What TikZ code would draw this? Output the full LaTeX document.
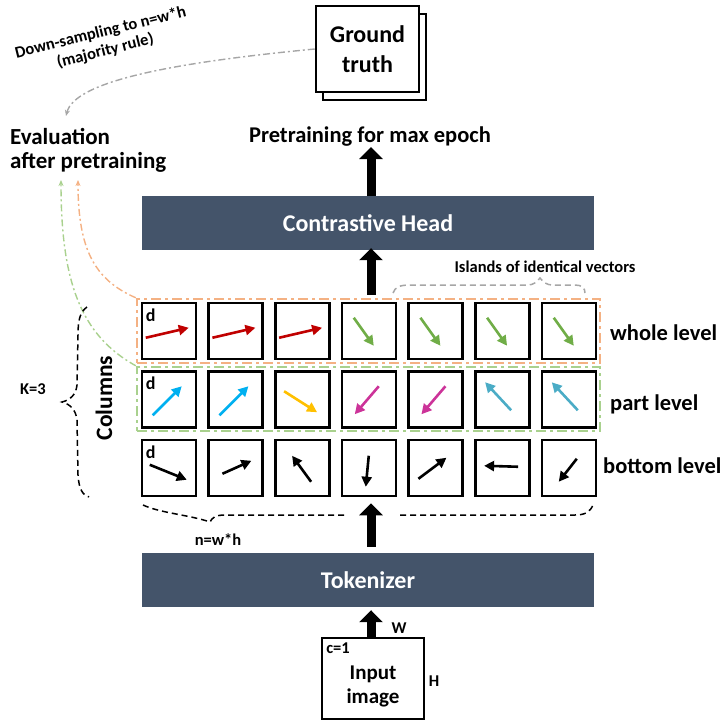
\documentclass[tikz,border=0pt]{standalone}
\usepackage{fontspec}
\setmainfont{Carlito}
\usetikzlibrary{arrows.meta}
\definecolor{barc}{HTML}{44546A}
\definecolor{vred}{HTML}{C00000}
\definecolor{vgreen}{HTML}{70AD47}
\definecolor{vblue}{HTML}{00B0F0}
\definecolor{vyellow}{HTML}{FFC000}
\definecolor{vmag}{HTML}{CC3399}
\definecolor{vteal}{HTML}{4BACC6}
\definecolor{orgd}{HTML}{F4B183}
\definecolor{grnd}{HTML}{A9D18E}
\definecolor{grayd}{HTML}{A6A6A6}
\newcommand\vecarrow[4]{\draw[vec,#1] ([shift={#3}]#2.north west) -- ([shift={#4}]#2.north west);}
\begin{document}
\begin{tikzpicture}[x=1pt,y=-1pt,
  font=\bfseries,
  cell/.style={draw, line width=2.5pt, minimum width=54pt, minimum height=56pt, inner sep=0pt},
  bar/.style={fill=barc, minimum width=452pt, minimum height=54pt, text=white, inner sep=0pt, font=\bfseries\fontsize{24}{28}\selectfont},
  bigarrow/.style={line width=9pt, -{Triangle[length=12pt,width=23pt]}},
  vec/.style={line width=2.6pt, -{Triangle[length=10pt,width=10pt]}},
  big/.style={font=\bfseries\fontsize{22.5}{27}\selectfont, inner sep=0pt},
  small/.style={font=\bfseries\fontsize{16.5}{18}\selectfont, inner sep=0pt},
  levelbox/.style={minimum width=463pt, minimum height=64pt, inner sep=0pt, line width=2.5pt, dash pattern=on 10pt off 4pt on 3pt off 4pt},
  thincurve/.style={line width=1.4pt, dash pattern=on 7pt off 3pt on 2pt off 3pt, -{Stealth[length=6pt,width=5pt]}},
  bracestyle/.style={line width=1.5pt, dash pattern=on 6pt off 4pt},
  gtbox/.style={draw, fill=white, line width=2.5pt, minimum width=103pt, minimum height=86pt, inner sep=0pt}
]
\useasboundingbox (0,0) rectangle (724,728);

% ground truth
\node[gtbox] (gtback) at (374.5,57) {};
\node[gtbox, align=center, font=\bfseries\fontsize{24}{30}\selectfont] (gt) at (367.5,49) {Ground\\truth};

% down-sampling label
\node[rotate=14, align=center, inner sep=0pt, font=\bfseries\fontsize{16.5}{19}\selectfont] (ds) at (103,42) {Down-sampling to n=w*h\\(majority rule)};

% evaluation text
\node[big, font=\bfseries\fontsize{23}{27}\selectfont, anchor=base west] (ev1) at (10,144) {Evaluation};
\node[big, font=\bfseries\fontsize{23}{27}\selectfont, anchor=base west] (ev2) at (10,168) {after pretraining};
\coordinate (evg) at (66,116);
\coordinate (evo) at (78,180);
\coordinate (evgr) at (61,180);

% pretraining
\node[big, anchor=base, inner sep=1pt] (pre) at (370,142) {Pretraining for max epoch};

% bars
\node[bar] (ch) at (368,223) {Contrastive Head};
\node[bar] (tok) at (368,580) {Tokenizer};
\coordinate (ax) at (371,0);

% level boxes
\node[levelbox, draw=orgd] (wh) at (368.5,331) {};
\node[levelbox, draw=grnd] (pt) at (368.5,399) {};

% cells
\foreach \r in {1,2,3}{
  \foreach \c in {1,...,7}{
    \node[cell] (c\r\c) at ({169+66.67*(\c-1)},{331+68.5*(\r-1)}) {};
  }
}
\foreach \r in {1,2,3}{
  \node[small, font=\bfseries\fontsize{18}{20}\selectfont, anchor=center] (d\r) at ([shift={(10,13)}]c\r1.north west) {d};
}

% row 1
\vecarrow{vred}{c11}{(5,36)}{(48,26)}
\vecarrow{vred}{c12}{(5,36)}{(48,26)}
\vecarrow{vred}{c13}{(5,36)}{(48,26)}
\vecarrow{vgreen}{c14}{(13,16)}{(33,44)}
\vecarrow{vgreen}{c15}{(13,16)}{(33,44)}
\vecarrow{vgreen}{c16}{(13,16)}{(33,44)}
\vecarrow{vgreen}{c17}{(13,16)}{(33,44)}
% row 2
\vecarrow{vblue}{c21}{(12,45)}{(41,16)}
\vecarrow{vblue}{c22}{(12,45)}{(41,16)}
\vecarrow{vyellow}{c23}{(10,21)}{(43,42)}
\vecarrow{vmag}{c24}{(38,16)}{(14,44)}
\vecarrow{vmag}{c25}{(38,16)}{(14,44)}
\vecarrow{vteal}{c26}{(37,40)}{(11,12)}
\vecarrow{vteal}{c27}{(37,40)}{(11,12)}
% row 3
\vecarrow{black}{c31}{(9,26)}{(46,41)}
\vecarrow{black}{c32}{(15,35)}{(44,22)}
\vecarrow{black}{c33}{(37,43)}{(18,17)}
\vecarrow{black}{c34}{(28,17)}{(25,48)}
\vecarrow{black}{c35}{(11,40)}{(39,19)}
\vecarrow{black}{c36}{(44,28)}{(10,27)}
\vecarrow{black}{c37}{(36,20)}{(18,43)}

% row labels
\node[big, anchor=base west] (lw) at (610,340) {whole level};
\node[big, anchor=base west] (lp) at (610,410) {part level};
\node[big, anchor=base west] (lb) at (603,473) {bottom level};

% big arrows
\draw[bigarrow] (ch.north -| ax) -- (ax |- pre.south);
\draw[bigarrow, shorten <=3pt, shorten >=-2pt] (wh.north -| ax) -- (ch.south -| ax);
\draw[bigarrow, shorten <=6pt, shorten >=6pt] (tok.north -| ax) -- (c34.south -| ax);

% input image
\node[draw, line width=2pt, minimum width=102pt, minimum height=81pt, inner sep=0pt] (inp) at (373,678.5) {};
\node[align=center, font=\bfseries\fontsize{21}{24}\selectfont, inner sep=0pt] (inptxt) at (373,686) {Input\\image};
\node[small] (c1) at (338,648) {c=1};
\node[small] (wl) at (399,628) {W};
\node[small] (hl) at (434,681) {H};
\draw[bigarrow, shorten >=3pt] (inp.north -| ax) -- (tok.south -| ax);

% curves to evaluation
\draw[thincurve, draw=grayd] (gt.west) .. controls (180,62) and (75,80) .. (evg);
\draw[thincurve, draw=orgd] (wh.north west) .. controls (95,280) and (78,250) .. (evo);
\draw[thincurve, draw=grnd] (pt.north west) .. controls (80,335) and (61,280) .. (evgr);

% islands brace
\draw[bracestyle, draw=grayd] (393,293) .. controls (395,287) and (400,285) .. (410,285) -- (528,285) .. controls (533,285) and (537,282) .. (540,278) .. controls (543,282) and (547,285) .. (552,285) -- (575,285) .. controls (582,285) and (585,288) .. (585,293);
\node[small] (isl) at (545,267) {Islands of identical vectors};

% left brace
\draw[bracestyle] (87,307) .. controls (80,312) and (78,320) .. (78,335) -- (77,385) .. controls (76,395) and (70,400) .. (62,402) .. controls (70,404) and (76,410) .. (77,420) -- (78,475) .. controls (79,490) and (83,495) .. (89,497);
\node[small] (k3) at (33,389) {K=3};
\node[big, font=\bfseries\fontsize{23.5}{27}\selectfont, rotate=90] (cols) at (104,398) {Columns};

% bottom brace
\draw[bracestyle] (143,505) .. controls (160,513) and (190,515) .. (210,522) .. controls (212,518) and (215,515) .. (225,515) -- (347,515);
\draw[bracestyle] (400,515) -- (575,515) .. controls (585,515) and (590,512) .. (593,505);
\node[small] (nwh) at (218,540) {n=w*h};
\end{tikzpicture}
\end{document}
